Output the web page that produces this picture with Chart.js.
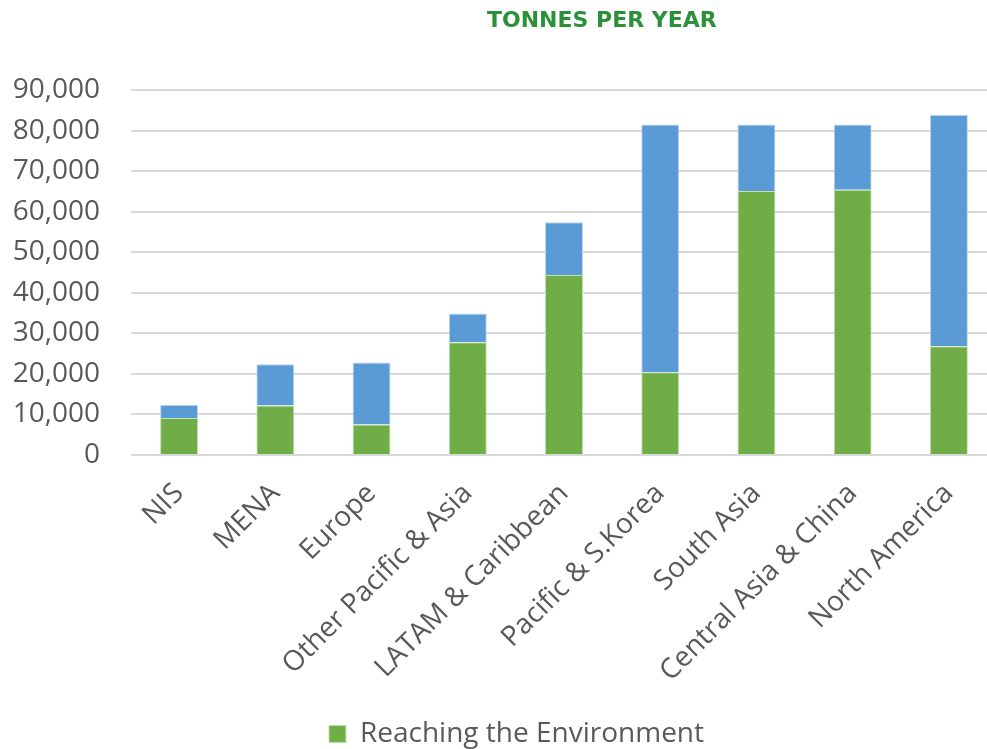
<!DOCTYPE html>
<html>
<head>
<meta charset="utf-8">
<script src="https://cdn.jsdelivr.net/npm/chart.js@4.4.1/dist/chart.umd.min.js"></script>
<style>
  html, body { margin: 0; padding: 0; overflow: hidden; background: #fff; }
  #wrap { position: relative; width: 998px; height: 758px; }
  #chartTitle {
    position: absolute; left: 487px; top: 9px;
    font-family: 'DejaVu Sans', sans-serif; font-weight: bold; font-size: 22px; line-height: 22px;
    color: #2a9139; white-space: nowrap;
  }
</style>
</head>
<body>
<div id="wrap">
  <div id="chartTitle">TONNES PER YEAR</div>
  <canvas id="tonnesChart"></canvas>
</div>
<script>
const regions = ['NIS', 'MENA', 'Europe', 'Other Pacific & Asia', 'LATAM & Caribbean',
    'Pacific & S.Korea', 'South Asia', 'Central Asia & China', 'North America'];
const reaching = [9100, 12200, 7500, 27800, 44400, 20400, 65100, 65400, 26800];
const remaining = [3300, 10200, 15300, 7100, 13000, 61100, 16400, 16100, 57100];
const yTicks = [0, 10000, 20000, 30000, 40000, 50000, 60000, 70000, 80000, 90000];

const labelFont = "'Open Sans', 'Liberation Sans', sans-serif";
const grey = '#595959';

// nudge the legend so it centres a bit right of the canvas middle, like the original
const legendShift = {
    id: 'legendShift',
    afterLayout(chart) { chart.legend.left = 36; }
};

document.addEventListener("DOMContentLoaded", function() {
    const ctx = document.getElementById('tonnesChart').getContext('2d');
    new Chart(ctx, {
        type: 'bar',
        data: {
            labels: regions,
            datasets: [
                {
                    label: 'Reaching the Environment',
                    data: reaching,
                    backgroundColor: '#70ad47',
                    borderColor: '#c5e0b4',
                    borderWidth: 1,
                    categoryPercentage: 1,
                    barPercentage: 0.395
                },
                {
                    label: 'Other',
                    data: remaining,
                    backgroundColor: '#5b9bd5',
                    borderColor: '#bdd7ee',
                    borderWidth: 1,
                    categoryPercentage: 1,
                    barPercentage: 0.395
                }
            ]
        },
        plugins: [legendShift],
        options: {
            responsive: true,
            maintainAspectRatio: false,
            animation: false,
            layout: { padding: { top: 90, left: 0, right: 1, bottom: 0 } },
            plugins: {
                legend: {
                    position: 'bottom',
                    labels: {
                        color: grey,
                        font: { family: labelFont, size: 28 },
                        boxWidth: 17,
                        boxHeight: 17,
                        padding: 2,
                        filter: item => item.datasetIndex === 0
                    }
                },
                tooltip: { enabled: false }
            },
            scales: {
                x: {
                    stacked: true,
                    grid: { display: false },
                    border: { display: false },
                    afterFit: axis => { axis.height = 263; },
                    ticks: {
                        color: grey,
                        padding: 14,
                        font: { family: labelFont, size: 28 },
                        minRotation: 45,
                        maxRotation: 45,
                        autoSkip: false
                    }
                },
                y: {
                    stacked: true,
                    min: 0,
                    max: 90000,
                    afterBuildTicks: axis => { axis.ticks = yTicks.map(v => ({ value: v })); },
                    afterFit: axis => { axis.width = 131; },
                    grid: { color: '#d9d9d9', lineWidth: 2, drawTicks: false },
                    border: { display: false },
                    ticks: {
                        color: grey,
                        padding: 31,
                        font: { family: labelFont, size: 28 },
                        callback: value => value.toLocaleString('en-US')
                    }
                }
            }
        }
    });
});
</script>
</body>
</html>
